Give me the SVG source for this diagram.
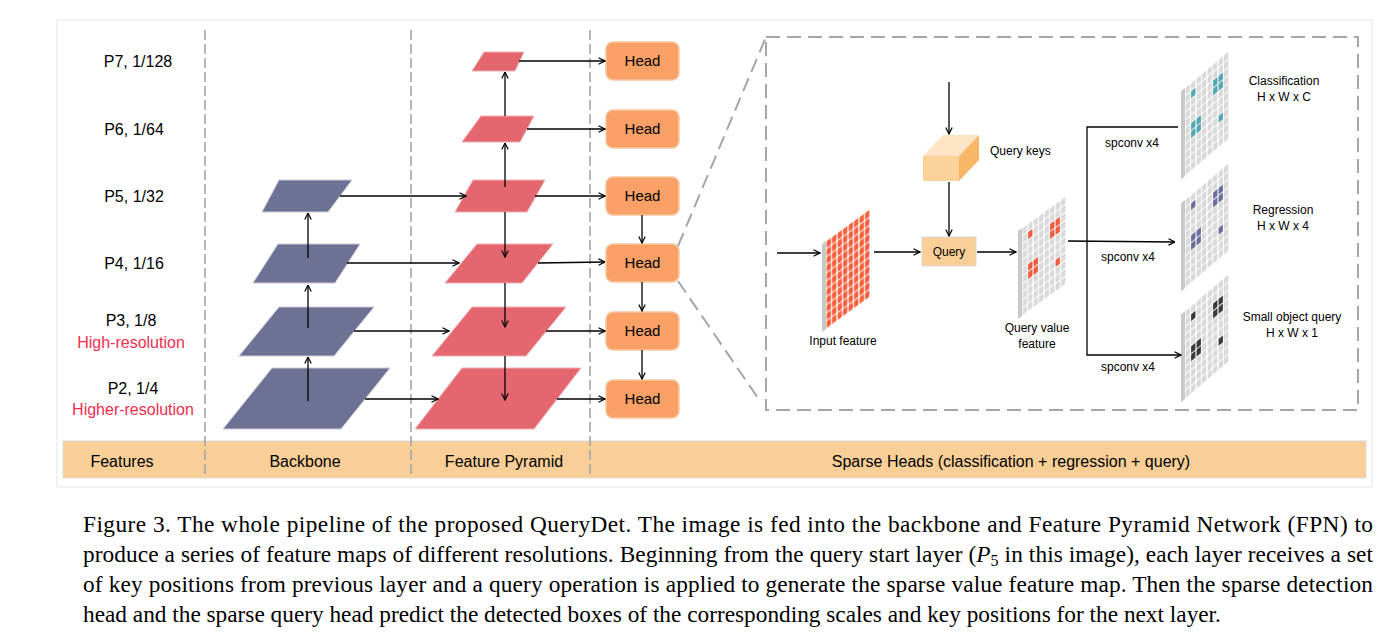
<svg xmlns="http://www.w3.org/2000/svg" xmlns:xlink="http://www.w3.org/1999/xlink" width="1400" height="634" viewBox="0 0 1400 634">
<style>
.lbl{font-family:"Liberation Sans",Arial,sans-serif;font-size:16px;fill:#000}
.red{fill:#F02D4E}
.sm{font-size:12px}
.mid{text-anchor:middle}
.c{stroke:#000;stroke-width:1.3;fill:none}
.ar{marker-end:url(#ah)}
.dv{stroke:#A6A6A6;stroke-width:1.6;stroke-dasharray:10 4;fill:none}
.dz{stroke:#A6A6A6;stroke-width:2;stroke-dasharray:14 7;fill:none}
.bb{fill:#6D7193;stroke:#C9CAD6;stroke-width:1}
.fp{fill:#E4666F;stroke:#EDB0B4;stroke-width:1}
.hd rect{fill:#F9A066;stroke:#F7C6A0;stroke-width:1.5}
.cap{font-family:"Liberation Serif","Times New Roman",serif;font-size:23.3px;fill:#000}
.side{fill:#C8C8C8}
</style>
<defs>
<marker id="ah" viewBox="0 0 8 8" refX="7.5" refY="4" markerWidth="8" markerHeight="8" markerUnits="userSpaceOnUse" orient="auto">
<path d="M1,0.8 L7.5,4 L1,7.2" fill="none" stroke="#000" stroke-width="1.2"/>
</marker>
<pattern id="pg" width="5.5" height="8" patternUnits="userSpaceOnUse"><rect width="5.5" height="8" fill="#fff"/><rect x="0.6" y="0.6" width="4.3" height="6.8" fill="#D9D9D9"/></pattern>
<pattern id="pr" width="5.5" height="8" patternUnits="userSpaceOnUse"><rect width="5.5" height="8" fill="#fff"/><rect x="0.6" y="0.6" width="4.3" height="6.8" fill="#F8603C"/></pattern>
<g id="hl">
<rect x="6.1" y="8.6" width="4.3" height="6.8"/>
<rect x="28.1" y="16.6" width="4.3" height="6.8"/>
<rect x="33.6" y="16.6" width="4.3" height="6.8"/>
<rect x="28.1" y="24.6" width="4.3" height="6.8"/>
<rect x="33.6" y="24.6" width="4.3" height="6.8"/>
<rect x="6.1" y="40.6" width="4.3" height="6.8"/>
<rect x="11.6" y="40.6" width="4.3" height="6.8"/>
<rect x="6.1" y="48.6" width="4.3" height="6.8"/>
<rect x="11.6" y="48.6" width="4.3" height="6.8"/>
<rect x="33.6" y="56.6" width="4.3" height="6.8"/>
</g>
</defs>
<rect width="1400" height="634" fill="#fff"/>
<rect x="57" y="20" width="1315" height="467" fill="none" stroke="#E6E6E6" stroke-width="1"/>

<g id="band">
<rect x="63" y="441" width="1303" height="37" fill="#F9CF97" stroke="#DADADA" stroke-width="1"/>
<text class="lbl mid" x="122" y="467">Features</text>
<text class="lbl mid" x="305" y="467">Backbone</text>
<text class="lbl mid" x="504" y="467">Feature Pyramid</text>
<text class="lbl mid" x="1011" y="467">Sparse Heads (classification + regression + query)</text>
</g>

<g id="dividers">
<line class="dv" x1="205" y1="30" x2="205" y2="478"/>
<line class="dv" x1="411" y1="30" x2="411" y2="478"/>
<line class="dv" x1="590" y1="30" x2="590" y2="478"/>
</g>

<g id="level-labels">
<text class="lbl mid" x="138" y="67">P7, 1/128</text>
<text class="lbl mid" x="134" y="134.5">P6, 1/64</text>
<text class="lbl mid" x="134" y="202">P5, 1/32</text>
<text class="lbl mid" x="134" y="269">P4, 1/16</text>
<text class="lbl mid" x="131" y="326">P3, 1/8</text>
<text class="lbl mid red" x="131" y="348">High-resolution</text>
<text class="lbl mid" x="133" y="394">P2, 1/4</text>
<text class="lbl mid red" x="133" y="415">Higher-resolution</text>
</g>

<g id="backbone">
<polygon id="b5" class="bb" points="279,180 352,180 328,212 262,212"/>
<polygon id="b4" class="bb" points="278,244 360,244 335,283 253,283"/>
<polygon id="b3" class="bb" points="279,307 374,307 334,356 239,356"/>
<polygon id="b2" class="bb" points="272,368 390,368 341,429 223,429"/>
</g>

<g id="fpn">
<polygon id="f7" class="fp" points="484,52 524,52 515,71 472,71"/>
<polygon id="f6" class="fp" points="481,116 534,116 520,142 462,142"/>
<polygon id="f5" class="fp" points="473,180 545,180 527,212 455,212"/>
<polygon id="f4" class="fp" points="477,244 553,244 522,283 445,283"/>
<polygon id="f3" class="fp" points="472,307 566,307 526,356 432,356"/>
<polygon id="f2" class="fp" points="462,368 581,368 534,429 415,429"/>
</g>

<g id="heads" class="hd">
<g id="head7"><rect x="606" y="42" width="73" height="38" rx="7"/><text class="lbl mid" style="font-size:15px" x="642.5" y="66.4">Head</text></g>
<g id="head6"><rect x="606" y="110" width="73" height="38" rx="7"/><text class="lbl mid" style="font-size:15px" x="642.5" y="134.4">Head</text></g>
<g id="head5"><rect x="606" y="177" width="73" height="38" rx="7"/><text class="lbl mid" style="font-size:15px" x="642.5" y="201.4">Head</text></g>
<g id="head4"><rect x="606" y="244" width="73" height="38" rx="7"/><text class="lbl mid" style="font-size:15px" x="642.5" y="268.4">Head</text></g>
<g id="head3"><rect x="606" y="312" width="73" height="38" rx="7"/><text class="lbl mid" style="font-size:15px" x="642.5" y="336.4">Head</text></g>
<g id="head2"><rect x="606" y="380" width="73" height="38" rx="7"/><text class="lbl mid" style="font-size:15px" x="642.5" y="404.4">Head</text></g>
</g>

<g id="zoom-frame">
<rect class="dz" x="766" y="37" width="592" height="373"/>
<line class="dz" x1="678" y1="246" x2="766" y2="37"/>
<line class="dz" x1="678" y1="281" x2="760" y2="401"/>
</g>

<g id="input-feature">
<g transform="matrix(1,-0.73,0,1,826,241)">
<rect class="side" x="-4" y="0" width="4" height="88"/>
<rect x="0" y="0" width="44" height="88" fill="url(#pr)"/>
</g>
<text class="lbl sm mid" x="843" y="345">Input feature</text>
</g>

<g id="query-keys">
<polygon points="923,156 943,135 979,135 959,156" fill="#FCE4C4"/>
<polygon points="959,156 979,135 979,160 959,181" fill="#F7B766"/>
<rect x="923" y="156" width="36" height="25" fill="#FAD29A"/>
<text class="lbl sm" x="990" y="155">Query keys</text>
</g>

<g id="query">
<rect x="922" y="237" width="54" height="29" fill="#F9CF97" stroke="#D9D9D9" stroke-width="1"/>
<text class="lbl sm mid" x="949" y="256">Query</text>
</g>

<g id="query-value">
<g transform="matrix(1,-0.73,0,1,1022,228)">
<rect class="side" x="-4" y="0" width="4" height="88"/>
<rect x="0" y="0" width="44" height="88" fill="url(#pg)"/>
<use xlink:href="#hl" fill="#F25B3D"/>
</g>
<text class="lbl sm mid" x="1037" y="332">Query value</text>
<text class="lbl sm mid" x="1037" y="348">feature</text>
</g>

<g id="classification">
<g transform="matrix(1,-0.85,0,1,1185,88)">
<rect class="side" x="-4" y="0" width="4" height="88"/>
<rect x="0" y="0" width="44" height="88" fill="url(#pg)"/>
<use xlink:href="#hl" fill="#4FA8B4"/>
</g>
<text class="lbl sm mid" x="1284" y="85">Classification</text>
<text class="lbl sm mid" x="1284" y="101">H x W x C</text>
</g>

<g id="regression">
<g transform="matrix(1,-0.85,0,1,1185,200)">
<rect class="side" x="-4" y="0" width="4" height="88"/>
<rect x="0" y="0" width="44" height="88" fill="url(#pg)"/>
<use xlink:href="#hl" fill="#6B6E9A"/>
</g>
<text class="lbl sm mid" x="1283" y="214">Regression</text>
<text class="lbl sm mid" x="1283" y="230">H x W x 4</text>
</g>

<g id="small-object-query">
<g transform="matrix(1,-0.85,0,1,1185,311)">
<rect class="side" x="-4" y="0" width="4" height="88"/>
<rect x="0" y="0" width="44" height="88" fill="url(#pg)"/>
<use xlink:href="#hl" fill="#3A3A3A"/>
</g>
<text class="lbl sm mid" x="1292" y="321">Small object query</text>
<text class="lbl sm mid" x="1292" y="337">H x W x 1</text>
</g>

<g id="connectors">
<line class="c ar" x1="308" y1="401" x2="308" y2="357"/>
<line class="c ar" x1="308" y1="328" x2="308" y2="285"/>
<line class="c ar" x1="308" y1="258" x2="308" y2="213"/>
<line class="c ar" x1="340" y1="196" x2="466" y2="196"/>
<line class="c ar" x1="347" y1="263" x2="459" y2="263"/>
<line class="c ar" x1="354" y1="331" x2="449" y2="331"/>
<line class="c ar" x1="365" y1="399" x2="438" y2="399"/>
<line class="c ar" x1="505" y1="116" x2="505" y2="72"/>
<line class="c ar" x1="505" y1="187" x2="505" y2="143"/>
<line class="c ar" x1="505" y1="212" x2="505" y2="257"/>
<line class="c ar" x1="505" y1="283" x2="505" y2="327"/>
<line class="c ar" x1="505" y1="356" x2="505" y2="400"/>
<line class="c ar" x1="519" y1="61" x2="605" y2="61"/>
<line class="c ar" x1="527" y1="129" x2="605" y2="129"/>
<line class="c ar" x1="535" y1="196" x2="605" y2="196"/>
<line class="c ar" x1="538" y1="263" x2="605" y2="262"/>
<line class="c ar" x1="546" y1="331" x2="605" y2="331"/>
<line class="c ar" x1="557" y1="399" x2="605" y2="399"/>
<line class="c ar" x1="642" y1="215" x2="642" y2="243"/>
<line class="c ar" x1="642" y1="282" x2="642" y2="311"/>
<line class="c ar" x1="642" y1="350" x2="642" y2="379"/>
<line class="c ar" x1="777" y1="253" x2="820" y2="253"/>
<line class="c ar" x1="874" y1="252" x2="920" y2="252"/>
<line class="c ar" x1="949" y1="82" x2="949" y2="134"/>
<line class="c ar" x1="949" y1="182" x2="949" y2="236"/>
<line class="c ar" x1="977" y1="252" x2="1016" y2="252"/>
<line class="c ar" x1="1068" y1="241" x2="1175" y2="242"/>
<polyline class="c ar" points="1178,127 1087,127 1087,355 1181,355"/>
<text class="lbl sm mid" x="1132" y="147">spconv x4</text>
<text class="lbl sm mid" x="1128" y="261">spconv x4</text>
<text class="lbl sm mid" x="1128" y="371">spconv x4</text>
</g>

<g id="caption">
<text class="cap" x="83" y="532" textLength="1290" lengthAdjust="spacing">Figure 3. The whole pipeline of the proposed QueryDet. The image is fed into the backbone and Feature Pyramid Network (FPN) to</text>
<text class="cap" x="83" y="562" textLength="1290" lengthAdjust="spacing">produce a series of feature maps of different resolutions. Beginning from the query start layer (<tspan font-style="italic">P</tspan><tspan font-size="16" dy="4">5</tspan><tspan dy="-4"> in this image), each layer receives a set</tspan></text>
<text class="cap" x="83" y="592" textLength="1290" lengthAdjust="spacing">of key positions from previous layer and a query operation is applied to generate the sparse value feature map. Then the sparse detection</text>
<text class="cap" x="83" y="622">head and the sparse query head predict the detected boxes of the corresponding scales and key positions for the next layer.</text>
</g>
</svg>
